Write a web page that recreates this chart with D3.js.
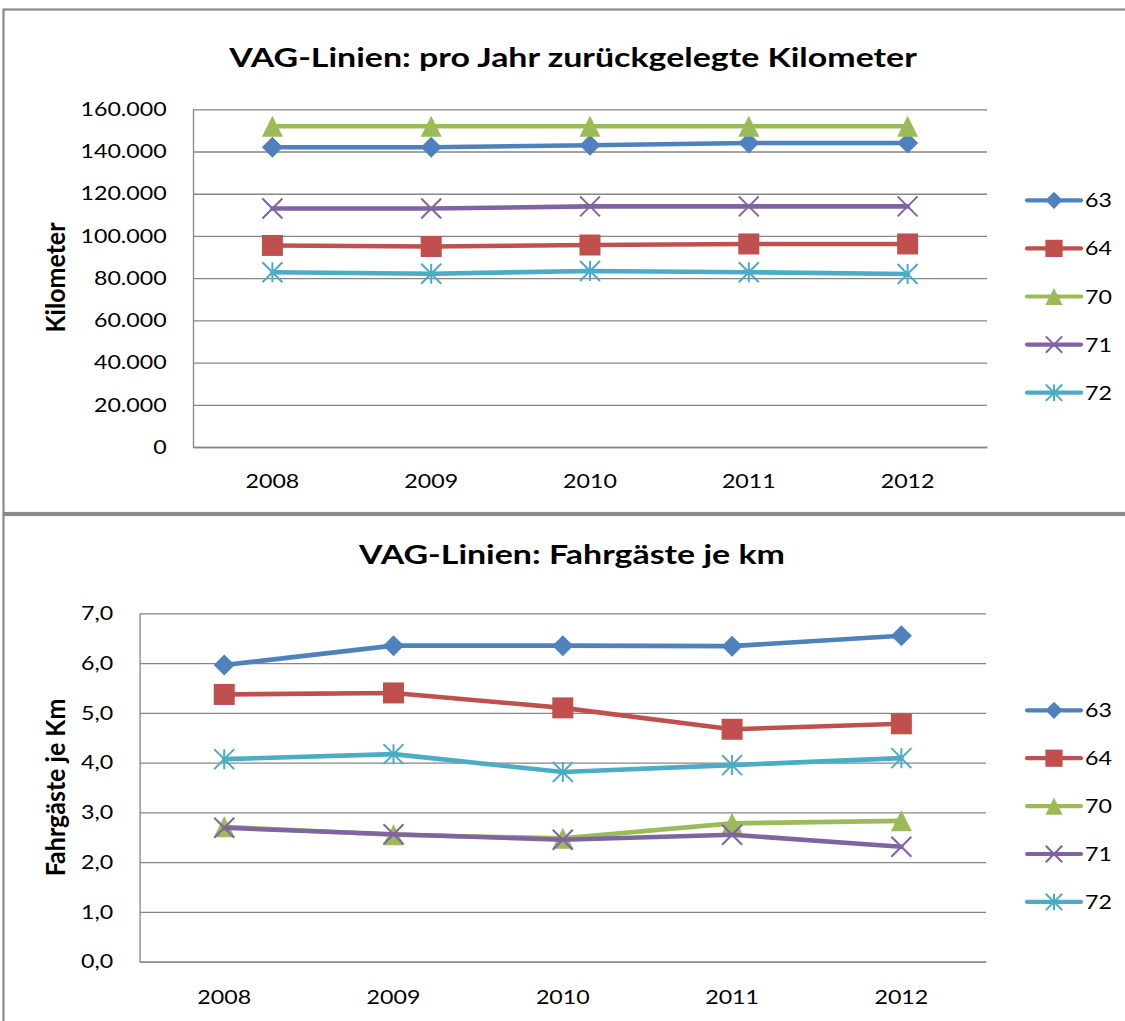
<!DOCTYPE html>
<html><head><meta charset="utf-8">
<script src="https://cdn.jsdelivr.net/npm/d3@7"></script>
<style>body{margin:0;background:#fff}svg{display:block}</style>
</head><body>
<svg id="chart" width="1125" height="1021"></svg>
<script>
// ---- data ----
const years = ["2008", "2009", "2010", "2011", "2012"];
const lineNames = ["63", "64", "70", "71", "72"];
const km63 = [142000, 142000, 143000, 144000, 144000];
const km64 = [95500, 95000, 95700, 96200, 96200];
const km70 = [152000, 152000, 152000, 152000, 152000];
const km71 = [113000, 113000, 114000, 114000, 114000];
const km72 = [82800, 82100, 83400, 82800, 82000];
const pax63 = [5.96, 6.35, 6.35, 6.34, 6.55];
const pax64 = [5.37, 5.40, 5.10, 4.67, 4.78];
const pax70 = [2.71, 2.55, 2.48, 2.78, 2.83];
const pax71 = [2.69, 2.56, 2.45, 2.55, 2.31];
const pax72 = [4.07, 4.17, 3.81, 3.95, 4.09];
const kmTicks = [0, 20000, 40000, 60000, 80000, 100000, 120000, 140000, 160000];
const paxTicks = [0, 1, 2, 3, 4, 5, 6, 7];
const title1 = "VAG-Linien: pro Jahr zurückgelegte Kilometer";
const title2 = "VAG-Linien: Fahrgäste je km";
const yTitle1 = "Kilometer";
const yTitle2 = "Fahrgäste je Km";

// ---- styles ----
const colors = ["#4F81BD", "#C0504D", "#9BBB59", "#8064A2", "#4BACC6"];
const markerTypes = ["diamond", "square", "triangle", "x", "star"];
const FONT = "Lato, 'Open Sans', sans-serif";
const SX = 1.19;       // horizontal stretch of the reference text
const TSX = 1.28;      // title stretch
const GRID = "#868686";

const de = d3.formatLocale({decimal: ",", thousands: ".", grouping: [3], currency: ["", "€"]});

const svg = d3.select("#chart");

function markerPath(type, r) {
  switch (type) {
    case "diamond": return `M0,${-r}L${r},0L0,${r}L${-r},0Z`;
    case "square": return `M${-r},${-r}H${r}V${r}H${-r}Z`;
    case "triangle": return `M0,${-r}L${r},${r}L${-r},${r}Z`;
    case "x": return `M${-r},${-r}L${r},${r}M${-r},${r}L${r},${-r}`;
    case "star": return `M${-r},${-r}L${r},${r}M${-r},${r}L${r},${-r}M0,${-r}V${r}`;
  }
}
const markerR = {diamond: 10.5, square: 10.5, triangle: 10.5, x: 10, star: 10};
const isStroke = t => t === "x" || t === "star";

function drawMarker(sel, type, color, scale) {
  sel.attr("d", markerPath(type, markerR[type] * scale))
    .attr("fill", isStroke(type) ? "none" : color)
    .attr("stroke", isStroke(type) ? color : "none")
    .attr("stroke-width", isStroke(type) ? 2 : 0);
}

// outer borders
svg.append("rect").attr("x", 3.5).attr("y", 9.5).attr("width", 1200).attr("height", 503.5)
  .attr("fill", "none").attr("stroke", "#8a8a8a").attr("stroke-width", 2.2);
svg.append("rect").attr("x", 3.5).attr("y", 515).attr("width", 1200).attr("height", 600)
  .attr("fill", "none").attr("stroke", "#8a8a8a").attr("stroke-width", 2.2);

function drawChart(cfg) {
  const g = svg.append("g");
  const x = d3.scaleBand().domain(years).range([cfg.left, cfg.right]);
  const y = d3.scaleLinear().domain([0, d3.max(cfg.ticks)]).range([cfg.bottom, cfg.top]);
  const cx = d => x(d) + x.bandwidth() / 2;

  // y axis + gridlines
  const ya = g.append("g").attr("transform", `translate(${cfg.left},0)`)
    .call(d3.axisLeft(y).tickValues(cfg.ticks).tickFormat(cfg.fmt)
      .tickSizeInner(-(cfg.right - cfg.left)).tickSizeOuter(0).tickPadding(cfg.pad));
  ya.selectAll("line").attr("stroke", GRID).attr("stroke-width", 1.3);
  ya.select(".domain").attr("stroke", GRID).attr("stroke-width", 1.3);
  ya.selectAll("text").attr("x", null)
    .attr("transform", `translate(${-cfg.pad},0) scale(${SX},1)`)
    .attr("font-family", FONT).attr("font-size", 19.5).attr("fill", "#000");

  // x axis
  const xa = g.append("g").attr("transform", `translate(0,${cfg.bottom})`)
    .call(d3.axisBottom(x).tickSize(0).tickSizeOuter(0));
  xa.select(".domain").attr("stroke", GRID).attr("stroke-width", 1.3);
  xa.selectAll("text").attr("y", null).attr("dy", null)
    .attr("transform", `translate(0,${cfg.xLabelOff}) scale(${SX},1)`)
    .attr("font-family", FONT).attr("font-size", 19.5).attr("fill", "#000");

  // title
  g.append("text").attr("transform", `translate(${cfg.titleX},${cfg.titleY}) scale(${TSX},1)`)
    .attr("text-anchor", "middle").attr("font-family", FONT).attr("font-weight", "bold")
    .attr("font-size", 26.5).attr("fill", "#000").text(cfg.title);

  // y axis title
  g.append("text").attr("transform", `translate(${cfg.yTitleX},${cfg.yTitleY}) rotate(-90) scale(1,1.1)`)
    .attr("text-anchor", "middle").attr("font-family", FONT).attr("font-weight", "bold")
    .attr("font-size", 25).attr("fill", "#000").text(cfg.yTitle);

  // series
  const line = d3.line().x((d, i) => cx(years[i])).y(d => y(d));
  cfg.series.forEach((vals, si) => {
    const sg = g.append("g");
    sg.append("path").attr("d", line(vals)).attr("fill", "none")
      .attr("stroke", colors[si]).attr("stroke-width", 4.6).attr("stroke-linejoin", "round").attr("stroke-linecap", "round");
    sg.selectAll("path.m").data(vals).join("path").attr("class", "m")
      .attr("transform", (d, i) => `translate(${cx(years[i])},${y(d)})`)
      .call(s => drawMarker(s, markerTypes[si], colors[si], 1));
  });

  // legend
  const lg = g.append("g");
  lineNames.forEach((name, si) => {
    const ly = cfg.legendY + si * cfg.legendStep;
    lg.append("line").attr("x1", 1027).attr("x2", 1081).attr("y1", ly).attr("y2", ly)
      .attr("stroke", colors[si]).attr("stroke-width", 4.2).attr("stroke-linecap", "round");
    lg.append("path").attr("transform", `translate(1054,${ly})`)
      .call(s => drawMarker(s, markerTypes[si], colors[si], 0.82));
    lg.append("text").attr("transform", `translate(1085,${ly}) scale(${SX},1)`)
      .attr("dy", "0.36em").attr("font-family", FONT).attr("font-size", 19.5).attr("fill", "#000").text(name);
  });
}

drawChart({
  left: 193, right: 987, top: 109.3, bottom: 447, ticks: kmTicks,
  fmt: de.format(",d"), pad: 26.3, xLabelOff: 41,
  title: title1, titleX: 573, titleY: 66.5, yTitle: yTitle1, yTitleX: 65, yTitleY: 277.5,
  series: [km63, km64, km70, km71, km72], legendY: 200.3, legendStep: 48.1
});
drawChart({
  left: 139.6, right: 986, top: 613.3, bottom: 961.7, ticks: paxTicks,
  fmt: de.format(",.1f"), pad: 26.3, xLabelOff: 42.5,
  title: title2, titleX: 572, titleY: 563.5, yTitle: yTitle2, yTitleX: 65, yTitleY: 787.5,
  series: [pax63, pax64, pax70, pax71, pax72], legendY: 710.3, legendStep: 47.9
});
</script>
</body></html>
